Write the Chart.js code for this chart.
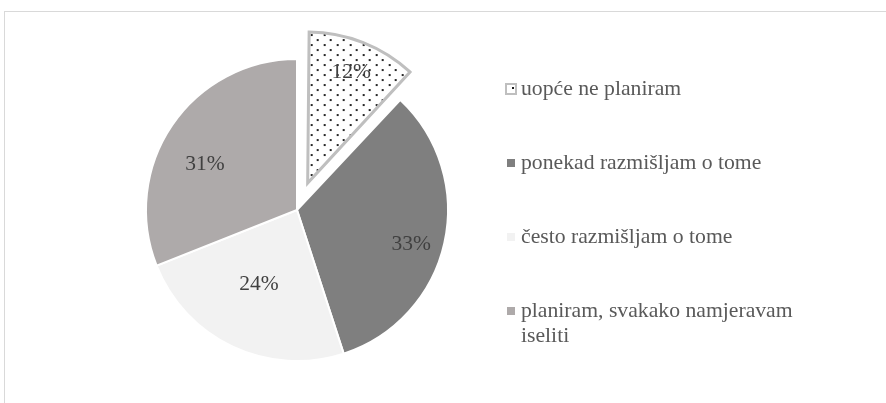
<!DOCTYPE html>
<html>
<head>
<meta charset="utf-8">
<script src="https://cdn.jsdelivr.net/npm/chart.js@4.4.1/dist/chart.umd.min.js"></script>
<style>
  html, body { margin: 0; padding: 0; background: #fff; }
  #wrap { width: 886px; height: 403px; position: relative; }
</style>
</head>
<body>
<div id="wrap"><canvas id="grafica" width="886" height="403"></canvas></div>
<script>
// podaci
const kategorije = ['uopće ne planiram', 'ponekad razmišljam o tome', 'često razmišljam o tome', 'planiram, svakako namjeravam iseliti'];
const udjeli = [12, 33, 24, 31];
const oznake = ['12%', '33%', '24%', '31%'];

const FONT = '"Liberation Serif", "Times New Roman", serif';

// tockasti uzorak za prvi isjecak
function tockice() {
    const c = document.createElement('canvas');
    c.width = 13; c.height = 10;
    const g = c.getContext('2d');
    g.fillStyle = '#fff';
    g.fillRect(0, 0, 13, 10);
    g.fillStyle = '#262626';
    g.fillRect(1, 1, 2, 2);
    g.fillRect(7, 6, 2, 2);
    return g.createPattern(c, 'repeat');
}
const uzorak = tockice();

// okvir oko grafikona
const okvir = {
    id: 'okvir',
    beforeDraw: function (chart) {
        const ctx = chart.ctx;
        ctx.save();
        ctx.strokeStyle = '#d9d9d9';
        ctx.lineWidth = 1;
        ctx.strokeRect(4.5, 11.5, 1000, 500);
        ctx.restore();
    }
};

// chart.js povecava radijus izvucenog isjecka, vracamo ga
const izvuceni = {
    id: 'izvuceni',
    afterDatasetsUpdate: function (chart) {
        const meta = chart.getDatasetMeta(0);
        meta.data.forEach(function (arc) {
            const pomak = (arc.options.offset || 0) / 4;
            if (!pomak) return;
            const fix = 1 - Math.sin(Math.min(Math.PI, arc.circumference));
            arc.outerRadius = meta.controller.outerRadius - pomak * fix;
        });
    }
};

// postoci na isjeccima
const postoci = {
    id: 'postoci',
    afterDatasetsDraw: function (chart, args, opts) {
        const meta = chart.getDatasetMeta(0);
        const R = meta.controller.outerRadius;
        const ctx = chart.ctx;
        ctx.save();
        ctx.font = '21.5px ' + FONT;
        ctx.fillStyle = '#404040';
        ctx.textAlign = 'center';
        ctx.textBaseline = 'middle';
        meta.data.forEach(function (arc, i) {
            const mid = (arc.startAngle + arc.endAngle) / 2 + (opts.kut[i] || 0) * Math.PI / 180;
            const d = (arc.options.offset || 0) / 4 + R * opts.udaljenost[i];
            ctx.fillText(oznake[i], arc.x + Math.cos(mid) * d, arc.y + Math.sin(mid) * d);
        });
        ctx.restore();
    }
};

// legenda desno
const legenda = {
    id: 'legenda',
    afterDraw: function (chart, args, opts) {
        const ctx = chart.ctx;
        const boje = chart.data.datasets[0].backgroundColor;
        ctx.save();
        ctx.font = '21.7px ' + FONT;
        ctx.textBaseline = 'middle';
        let y = opts.y;
        kategorije.forEach(function (naziv, i) {
            // prelamanje teksta
            const rijeci = naziv.split(' ');
            const redovi = [];
            let red = '';
            rijeci.forEach(function (r) {
                const probni = red ? red + ' ' + r : r;
                if (red && ctx.measureText(probni).width > opts.sirina) {
                    redovi.push(red);
                    red = r;
                } else {
                    red = probni;
                }
            });
            redovi.push(red);

            if (i === 0) {
                ctx.fillStyle = '#fff';
                ctx.fillRect(opts.x - 6, y - 6, 12, 12);
                ctx.fillStyle = '#1a1a1a';
                ctx.fillRect(opts.x + 1, y - 2, 2, 2);
                ctx.strokeStyle = '#bfbfbf';
                ctx.lineWidth = 2;
                ctx.strokeRect(opts.x - 5, y - 5, 10, 10);
            } else {
                ctx.fillStyle = boje[i];
                ctx.fillRect(opts.x - 4, y - 4, 8, 8);
            }
            ctx.fillStyle = '#595959';
            redovi.forEach(function (t, k) {
                ctx.fillText(t, opts.x + 10, y + k * 25);
            });
            y += opts.razmak;
        });
        ctx.restore();
    }
};

new Chart(document.getElementById('grafica'), {
    type: 'pie',
    data: {
        labels: kategorije,
        datasets: [{
            data: udjeli,
            backgroundColor: [uzorak, '#7f7f7f', '#f2f2f2', '#aeaaaa'],
            borderColor: ['#bfbfbf', '#ffffff', '#ffffff', '#ffffff'],
            borderWidth: [3, 2, 2, 2],
            borderJoinStyle: 'miter',
            offset: [116, 0, 0, 0]
        }]
    },
    options: {
        responsive: false,
        animation: false,
        radius: 151,
        layout: { padding: { left: 0, right: 292, top: 17, bottom: 0 } },
        plugins: {
            legend: { display: false },
            tooltip: { enabled: false },
            postoci: { udaljenost: [0.785, 0.79, 0.55, 0.68], kut: [0, 4, 2, -8] },
            legenda: { x: 511, y: 89, razmak: 74, sirina: 290 }
        }
    },
    plugins: [okvir, izvuceni, postoci, legenda]
});
</script>
</body>
</html>
